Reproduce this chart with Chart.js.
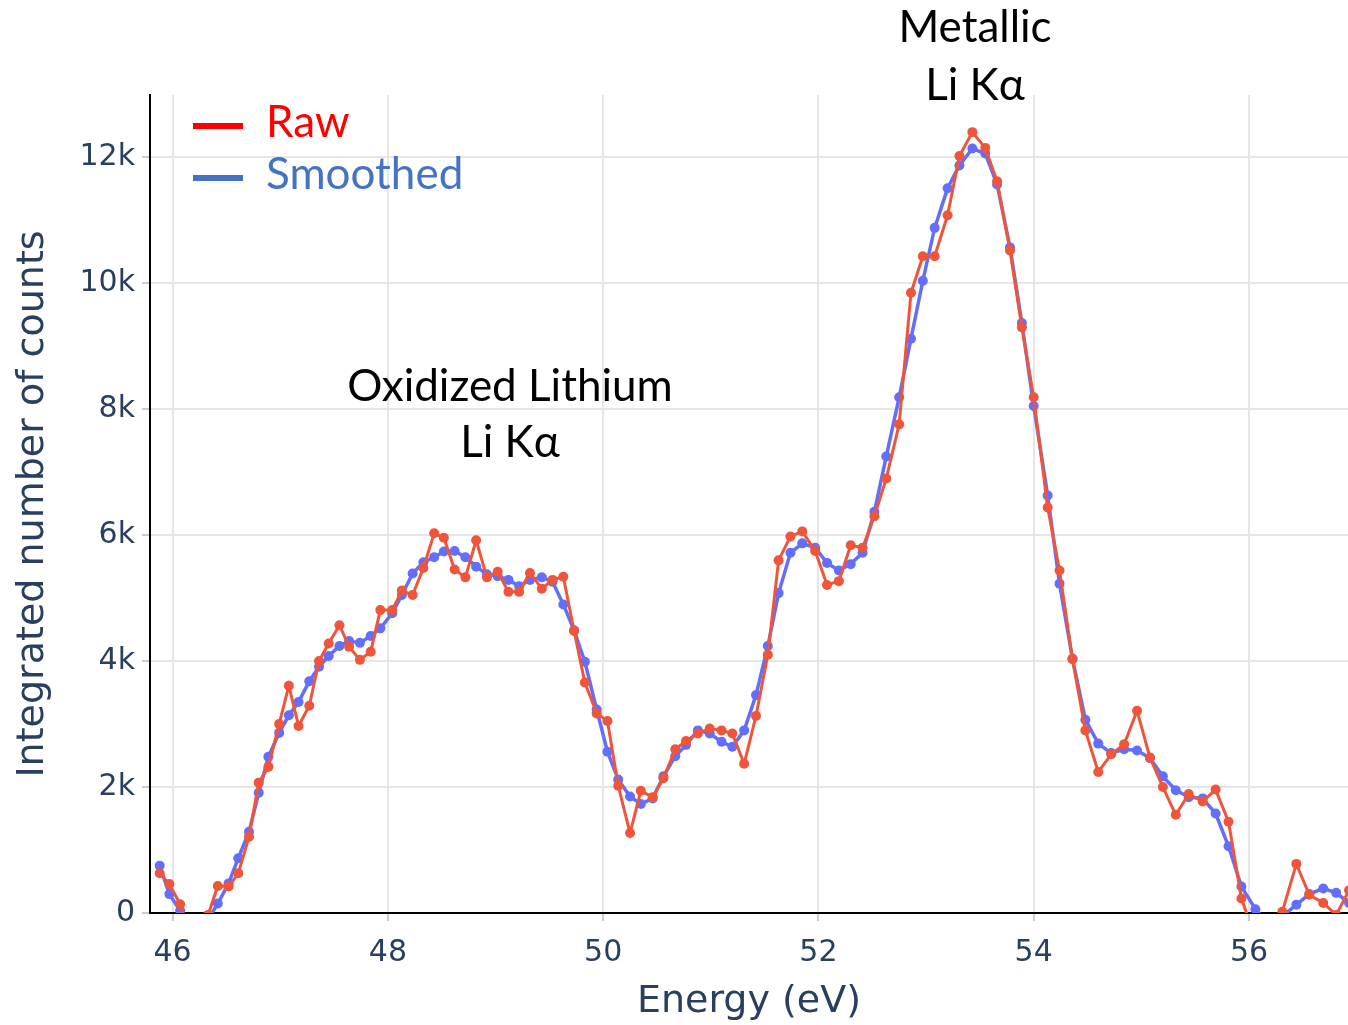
<!DOCTYPE html>
<html>
<head>
<meta charset="utf-8">
<script src="https://cdn.jsdelivr.net/npm/chart.js@4/dist/chart.umd.min.js"></script>
<style>
  html, body { margin: 0; padding: 0; background: #fff; }
  canvas { display: block; }
</style>
</head>
<body>
<canvas id="spectrum" width="1348" height="1025"></canvas>
<script>
const energy = [
  45.88, 45.97, 46.07, 46.15, 46.24, 46.33, 46.42, 46.52, 46.61, 46.71,
  46.80, 46.89, 46.99, 47.08, 47.17, 47.27, 47.36, 47.45, 47.55, 47.64,
  47.74, 47.84, 47.93, 48.04, 48.13, 48.23, 48.33, 48.43, 48.52, 48.62,
  48.72, 48.82, 48.92, 49.02, 49.12, 49.22, 49.32, 49.43, 49.53, 49.63,
  49.73, 49.83, 49.94, 50.04, 50.14, 50.25, 50.35, 50.46, 50.56, 50.67,
  50.77, 50.88, 50.99, 51.10, 51.20, 51.31, 51.42, 51.53, 51.63, 51.74,
  51.85, 51.97, 52.08, 52.19, 52.30, 52.41, 52.52, 52.63, 52.75, 52.86,
  52.97, 53.08, 53.20, 53.31, 53.43, 53.55, 53.66, 53.78, 53.89, 54.00,
  54.13, 54.24, 54.36, 54.48, 54.60, 54.72, 54.84, 54.96, 55.08, 55.20,
  55.32, 55.44, 55.57, 55.69, 55.81, 55.93, 56.06, 56.19, 56.31, 56.44,
  56.56, 56.69, 56.81, 56.93
];

// integrated counts, raw
const rawCounts = [
  630, 460, 140, -300, -400, -30, 430, 420, 630, 1210,
  2070, 2320, 3000, 3610, 2970, 3290, 4000, 4280, 4570, 4230,
  4020, 4150, 4810, 4810, 5120, 5050, 5480, 6030, 5960, 5455,
  5330, 5920, 5330, 5420, 5100, 5100, 5400, 5150, 5290, 5340,
  4480, 3660, 3170, 3050, 2020, 1270, 1940, 1840, 2140, 2600,
  2730, 2850, 2930, 2900, 2850, 2370, 3130, 4100, 5600, 5980,
  6060, 5750, 5210, 5270, 5840, 5800, 6300, 6900, 7760, 9850,
  10430, 10430, 11080, 12020, 12400, 12150, 11620, 10520, 9300, 8190,
  6440, 5440, 4030, 2900, 2240, 2520, 2680, 3210, 2470, 2000,
  1560, 1890, 1770, 1960, 1450, 230, -400, -300, 20, 780,
  290, 160, -30, 360
];

// integrated counts, smoothed
const smoothCounts = [
  750, 300, 40, -250, -300, -100, 150, 470, 870, 1290,
  1910, 2480, 2860, 3140, 3350, 3680, 3910, 4080, 4240, 4320,
  4290, 4400, 4520, 4760, 5050, 5390, 5570, 5650, 5740, 5750,
  5650, 5500, 5380, 5350, 5290, 5190, 5290, 5330, 5260, 4900,
  4490, 3990, 3230, 2560, 2120, 1850, 1730, 1820, 2170, 2490,
  2670, 2900, 2850, 2720, 2640, 2900, 3460, 4240, 5080, 5720,
  5870, 5800, 5560, 5440, 5540, 5720, 6370, 7250, 8190, 9120,
  10040, 10880, 11510, 11870, 12140, 12060, 11570, 10570, 9370, 8050,
  6630, 5230, 4040, 3070, 2690, 2540, 2600, 2580, 2460, 2170,
  1950, 1840, 1820, 1580, 1060, 420, 60, -200, -50, 130,
  300, 390, 320, 160
];

const xTicks = [46, 48, 50, 52, 54, 56];
const yTicks = [0, 2000, 4000, 6000, 8000, 10000, 12000];

const seriesNames = ["Raw", "Smoothed"];
const peakLabels = [
  ["Metallic", "Li K\u03b1"],
  ["Oxidized Lithium", "Li K\u03b1"]
];

const tickFont = { family: "DejaVu Sans", size: 30 };
const titleFont = { family: "DejaVu Sans", size: 38 };
const inkBlue = "#2a3f5f";

function toPoints(ys) {
  return energy.map((e, i) => ({ x: e, y: ys[i] }));
}

// legend + peak annotations drawn on top
const overlay = {
  id: "overlay",
  afterDraw(chart) {
    const ctx = chart.ctx;
    ctx.save();

    // legend
    const legendItems = [
      { name: seriesNames[0], color: "#ff0000", y: 126 },
      { name: seriesNames[1], color: "#4472c4", y: 178 }
    ];
    ctx.font = "44px Lato";
    ctx.textBaseline = "middle";
    ctx.textAlign = "left";
    legendItems.forEach(item => {
      ctx.fillStyle = item.color;
      ctx.fillRect(193, item.y - 3, 50, 6);
      ctx.fillText(item.name, 266, item.y - 3);
    });

    // annotations
    ctx.fillStyle = "#000";
    ctx.textAlign = "center";
    ctx.font = "44px Lato";
    ctx.fillText(peakLabels[0][0], 975, 28);
    ctx.fillText(peakLabels[0][1], 975, 86);
    ctx.fillText(peakLabels[1][0], 510, 387);
    ctx.fillText(peakLabels[1][1], 510, 443);

    ctx.restore();
  }
};

new Chart(document.getElementById("spectrum"), {
  type: "line",
  data: {
    datasets: [
      {
        label: seriesNames[0],
        data: toPoints(rawCounts),
        borderColor: "#ef553b",
        backgroundColor: "#ef553b",
        borderWidth: 3,
        pointRadius: 5,
        pointBorderWidth: 0,
        pointBackgroundColor: "#ef553b",
        tension: 0,
        order: 0
      },
      {
        label: seriesNames[1],
        data: toPoints(smoothCounts),
        borderColor: "#636efa",
        backgroundColor: "#636efa",
        borderWidth: 3.5,
        pointRadius: 5,
        pointBorderWidth: 0,
        pointBackgroundColor: "#636efa",
        tension: 0,
        order: 1
      }
    ]
  },
  options: {
    responsive: false,
    devicePixelRatio: 1,
    animation: false,
    layout: { autoPadding: false, padding: { top: 95, right: 0, bottom: 0, left: 0 } },
    plugins: {
      legend: { display: false },
      tooltip: { enabled: false }
    },
    scales: {
      x: {
        type: "linear",
        min: 45.79,
        max: 56.92,
        afterFit: s => { s.height = 112; s.paddingLeft = 0; s.paddingRight = 0; },
        afterBuildTicks: s => { s.ticks = xTicks.map(v => ({ value: v })); },
        ticks: {
          color: inkBlue,
          font: tickFont,
          padding: 14,
          maxRotation: 0,
          autoSkip: false
        },
        grid: {
          color: "#e6e6e6",
          lineWidth: 2,
          tickLength: 8,
          tickColor: "#cccccc",
          tickWidth: 2
        },
        border: { color: "#000", width: 2 },
        title: {
          display: true,
          text: "Energy (eV)",
          color: inkBlue,
          font: titleFont,
          padding: { top: 0, bottom: 0 }
        }
      },
      y: {
        min: 0,
        max: 12990,
        afterFit: s => { s.width = 150; },
        afterBuildTicks: s => { s.ticks = yTicks.map(v => ({ value: v })); },
        ticks: {
          color: inkBlue,
          font: tickFont,
          padding: 7,
          callback: v => (v === 0 ? "0" : v / 1000 + "k")
        },
        grid: {
          color: "#e6e6e6",
          lineWidth: 2,
          tickLength: 8,
          tickColor: "#cccccc",
          tickWidth: 2
        },
        border: { color: "#000", width: 2 },
        title: {
          display: true,
          text: "Integrated number of counts",
          color: inkBlue,
          font: titleFont,
          padding: { top: 10, bottom: 0 }
        }
      }
    }
  },
  plugins: [overlay]
});
</script>
</body>
</html>
